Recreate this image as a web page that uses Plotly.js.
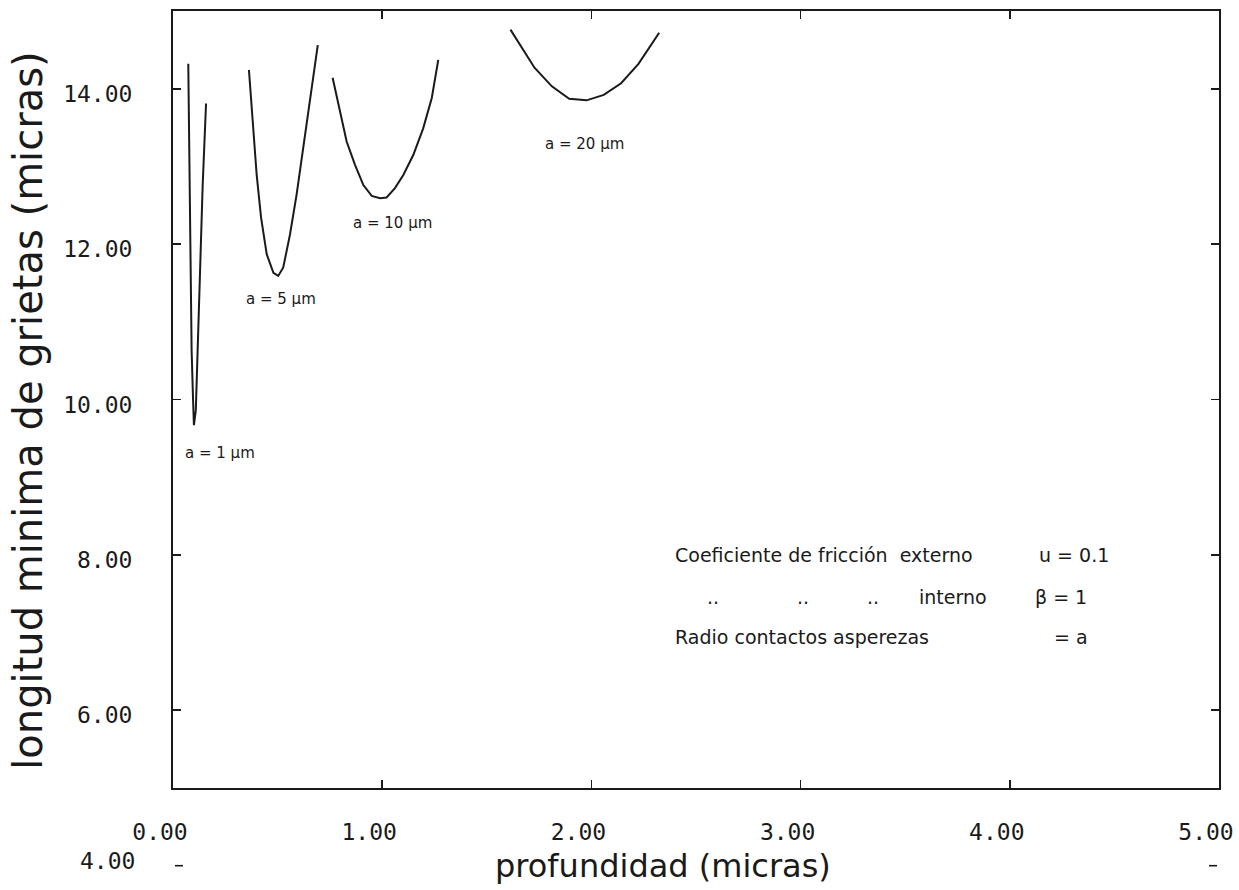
<!DOCTYPE html>
<html>
<head>
<meta charset="utf-8">
<script src="https://cdn.plot.ly/plotly-3.0.1.min.js"></script>
<style>html,body{margin:0;padding:0;background:#fff;}#chart{width:1239px;height:890px;}</style>
</head>
<body>
<div id="chart"></div>
<script>
// ---- data ----
const xTicks = [0, 1, 2, 3, 4, 5];
const xTickLabels = ["0.00", "1.00", "2.00", "3.00", "4.00", "5.00"];
const yTicks = [6, 8, 10, 12, 14];
const yTickLabels = ["6.00", "8.00", "10.00", "12.00", "14.00"];
const yLowTickLabel = "4.00";   // drawn below the frame in the reference

// a = 1 um
const a1X = [0.073, 0.078, 0.083, 0.089, 0.096, 0.100, 0.109, 0.118, 0.129, 0.142, 0.158];
const a1Y = [14.32, 12.98, 11.70, 10.63, 9.99, 9.67, 9.86, 10.63, 11.70, 12.77, 13.81];
// a = 5 um
const a5X = [0.363, 0.384, 0.400, 0.421, 0.448, 0.480, 0.503, 0.527, 0.559, 0.591, 0.623, 0.655, 0.692];
const a5Y = [14.24, 13.41, 12.89, 12.34, 11.87, 11.63, 11.59, 11.70, 12.12, 12.64, 13.23, 13.88, 14.56];
// a = 10 um
const a10X = [0.763, 0.798, 0.830, 0.870, 0.910, 0.950, 0.990, 1.021, 1.061, 1.101, 1.149, 1.196, 1.237, 1.268];
const a10Y = [14.14, 13.71, 13.32, 13.02, 12.76, 12.62, 12.59, 12.60, 12.72, 12.89, 13.15, 13.49, 13.88, 14.37];
// a = 20 um
const a20X = [1.613, 1.728, 1.811, 1.894, 1.977, 2.059, 2.142, 2.225, 2.324];
const a20Y = [14.76, 14.27, 14.03, 13.87, 13.85, 13.92, 14.07, 14.32, 14.72];

const curveNames = ["a = 1 μm", "a = 5 μm", "a = 10 μm", "a = 20 μm"];

// ---- styling ----
const ink = "#1a1a1a";
const lineStyle = {color: ink, width: 2};
const monoFont = {family: "DejaVu Sans Mono, monospace", size: 23, color: ink};
const textFont = {family: "DejaVu Sans, sans-serif", size: 19, color: ink};
const labelFont = {family: "DejaVu Sans, sans-serif", size: 15, color: ink};
const xTitleFont = {family: "DejaVu Sans, sans-serif", size: 32, color: ink};
const yTitleFont = {family: "DejaVu Sans, sans-serif", size: 40, color: ink};

const series = [[a1X, a1Y], [a5X, a5Y], [a10X, a10Y], [a20X, a20Y]];
const traces = series.map((s, i) => ({
  x: s[0], y: s[1], type: "scatter", mode: "lines",
  name: curveNames[i], line: lineStyle, hoverinfo: "skip"
}));

const baseAxis = {ticks: "inside", ticklen: 8, tickwidth: 1.6, tickcolor: ink,
  showgrid: false, zeroline: false, showline: true, linecolor: ink, linewidth: 2,
  mirror: "ticks", tickfont: monoFont};

const layout = {
  width: 1239, height: 890,
  margin: {l: 173, r: 20, t: 11, b: 102},
  paper_bgcolor: "#fff", plot_bgcolor: "#fff",
  showlegend: false,
  xaxis: Object.assign({}, baseAxis, {
    range: [0, 5], tickvals: xTicks, ticktext: xTickLabels,
    ticklabelstandoff: 22, ticklabelshift: -13
  }),
  yaxis: Object.assign({}, baseAxis, {
    range: [5, 15], tickvals: yTicks, ticktext: yTickLabels,
    ticklabelstandoff: 34, ticklabelshift: 5
  }),
  shapes: [
    // the y = 4 tick marks, which sit below the frame in the reference
    {type: "line", xref: "paper", yref: "paper", xsizemode: "pixel", xanchor: 0,
      x0: 2, x1: 10, y0: -0.1, y1: -0.1, line: {color: ink, width: 1.6}},
    {type: "line", xref: "paper", yref: "paper", xsizemode: "pixel", xanchor: 1,
      x0: -10, x1: -2, y0: -0.1, y1: -0.1, line: {color: ink, width: 1.6}}
  ],
  annotations: [
    {text: yLowTickLabel, xref: "paper", yref: "paper", x: 0, y: -0.1, xanchor: "right", yanchor: "middle",
      xshift: -36, yshift: 5, showarrow: false, font: monoFont},

    {text: curveNames[0], xref: "x", yref: "y", x: 0.225, y: 9.31, showarrow: false, font: labelFont},
    {text: curveNames[1], xref: "x", yref: "y", x: 0.515, y: 11.29, showarrow: false, font: labelFont},
    {text: curveNames[2], xref: "x", yref: "y", x: 1.048, y: 12.27, showarrow: false, font: labelFont},
    {text: curveNames[3], xref: "x", yref: "y", x: 1.969, y: 13.29, showarrow: false, font: labelFont},

    {text: "Coeficiente de fricción  externo", xref: "x", yref: "y", x: 2.39, y: 8.0, xanchor: "left", showarrow: false, font: textFont},
    {text: "u = 0.1", xref: "x", yref: "y", x: 4.13, y: 8.0, xanchor: "left", showarrow: false, font: textFont},
    {text: "..", xref: "x", yref: "y", x: 2.581, y: 7.46, showarrow: false, font: textFont},
    {text: "..", xref: "x", yref: "y", x: 3.011, y: 7.46, showarrow: false, font: textFont},
    {text: "..", xref: "x", yref: "y", x: 3.346, y: 7.46, showarrow: false, font: textFont},
    {text: "interno", xref: "x", yref: "y", x: 3.556, y: 7.46, xanchor: "left", showarrow: false, font: textFont},
    {text: "β = 1", xref: "x", yref: "y", x: 4.111, y: 7.46, xanchor: "left", showarrow: false, font: textFont},
    {text: "Radio contactos asperezas", xref: "x", yref: "y", x: 2.39, y: 6.94, xanchor: "left", showarrow: false, font: textFont},
    {text: "= a", xref: "x", yref: "y", x: 4.202, y: 6.94, xanchor: "left", showarrow: false, font: textFont},

    {text: "profundidad (micras)", xref: "paper", yref: "paper", x: 0.468, y: -0.1004,
      xanchor: "center", yanchor: "middle", showarrow: false, font: xTitleFont},
    {text: "longitud minima de grietas (micras)", xref: "paper", yref: "paper", x: -0.138, y: 0.485,
      xanchor: "center", yanchor: "middle", textangle: -90, showarrow: false, font: yTitleFont}
  ]
};

Plotly.newPlot("chart", traces, layout, {staticPlot: true, displayModeBar: false});
</script>
</body>
</html>
